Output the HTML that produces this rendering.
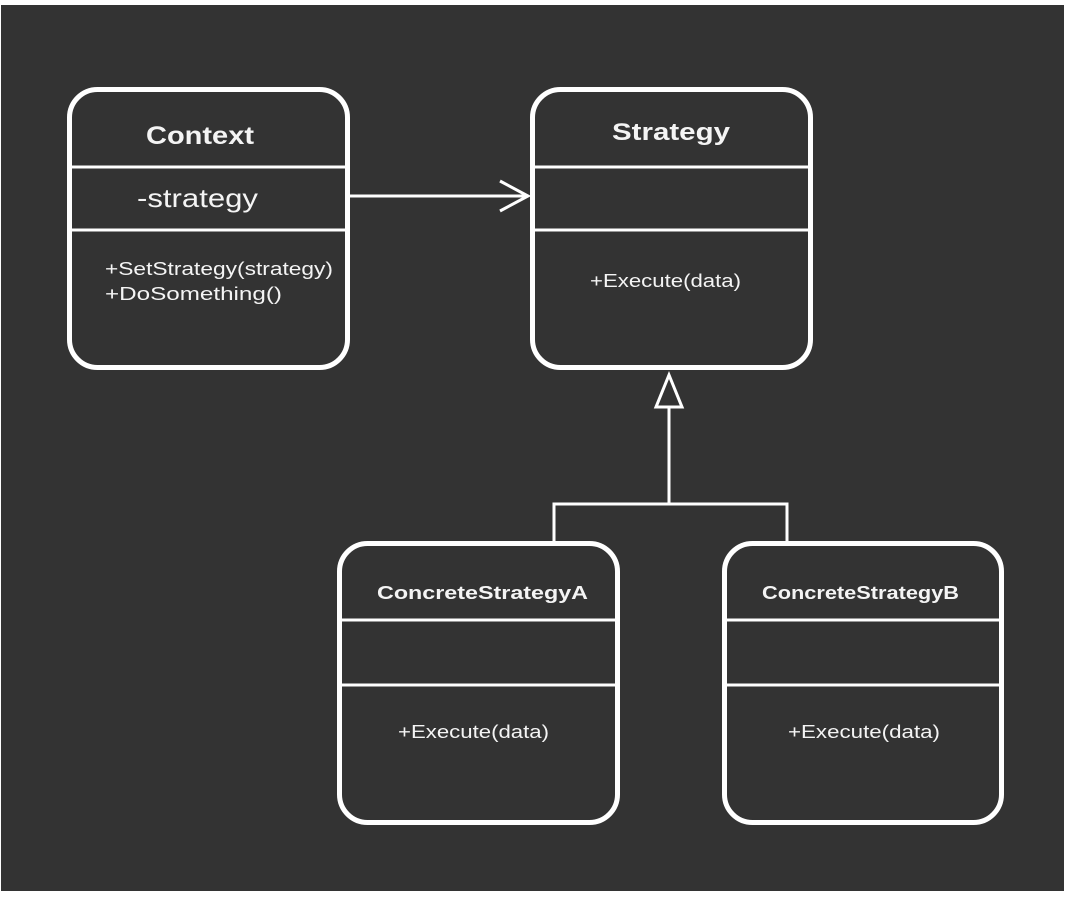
<!DOCTYPE html>
<html><head><meta charset="utf-8"><style>
html,body{margin:0;padding:0;background:#fff;}
svg{display:block;}
text{font-family:"Liberation Sans",Arial,sans-serif;fill:#f4f4f4;}
</style></head><body>
<svg width="1065" height="899" viewBox="0 0 1065 899">
<rect x="0" y="0" width="1065" height="899" fill="#ffffff"/>
<rect x="1" y="5" width="1063" height="886" fill="#333333"/>
<g fill="none" stroke="#ffffff" stroke-width="5">
<rect x="69.5" y="89.5" width="278" height="278" rx="28"/>
<line x1="70" y1="167" x2="347" y2="167" stroke-width="3"/>
<line x1="70" y1="230" x2="347" y2="230" stroke-width="3"/>
<rect x="532.5" y="89.5" width="278" height="278" rx="28"/>
<line x1="533" y1="167" x2="810" y2="167" stroke-width="3"/>
<line x1="533" y1="230" x2="810" y2="230" stroke-width="3"/>
<rect x="339.5" y="543.5" width="278" height="279" rx="28"/>
<line x1="340" y1="620" x2="617" y2="620" stroke-width="3"/>
<line x1="340" y1="685" x2="617" y2="685" stroke-width="3"/>
<rect x="724.5" y="543.5" width="277" height="279" rx="28"/>
<line x1="725" y1="620" x2="1001" y2="620" stroke-width="3"/>
<line x1="725" y1="685" x2="1001" y2="685" stroke-width="3"/>
</g>
<g fill="none" stroke="#ffffff" stroke-width="3">
<line x1="350" y1="196" x2="528" y2="196"/>
<polyline points="500,181 528,196 500,211"/>
<polygon points="669,375 656,407 682,407"/>
<line x1="669" y1="407" x2="669" y2="504"/>
<polyline points="554,541 554,504 787,504 787,541"/>
</g>
<g lengthAdjust="spacingAndGlyphs">
<text x="146" y="144" font-size="25" font-weight="bold" textLength="108" lengthAdjust="spacingAndGlyphs">Context</text>
<text x="137" y="207" font-size="26" textLength="121" lengthAdjust="spacingAndGlyphs">-strategy</text>
<text x="105" y="275" font-size="18" textLength="228" lengthAdjust="spacingAndGlyphs">+SetStrategy(strategy)</text>
<text x="105" y="300" font-size="18" textLength="177" lengthAdjust="spacingAndGlyphs">+DoSomething()</text>
<text x="612" y="140" font-size="24" font-weight="bold" textLength="118" lengthAdjust="spacingAndGlyphs">Strategy</text>
<text x="590" y="287" font-size="18" textLength="151" lengthAdjust="spacingAndGlyphs">+Execute(data)</text>
<text x="377" y="599" font-size="18" font-weight="bold" textLength="211" lengthAdjust="spacingAndGlyphs">ConcreteStrategyA</text>
<text x="398" y="738" font-size="18" textLength="151" lengthAdjust="spacingAndGlyphs">+Execute(data)</text>
<text x="762" y="599" font-size="18" font-weight="bold" textLength="197" lengthAdjust="spacingAndGlyphs">ConcreteStrategyB</text>
<text x="788" y="738" font-size="18" textLength="152" lengthAdjust="spacingAndGlyphs">+Execute(data)</text>
</g>
</svg>
</body></html>
